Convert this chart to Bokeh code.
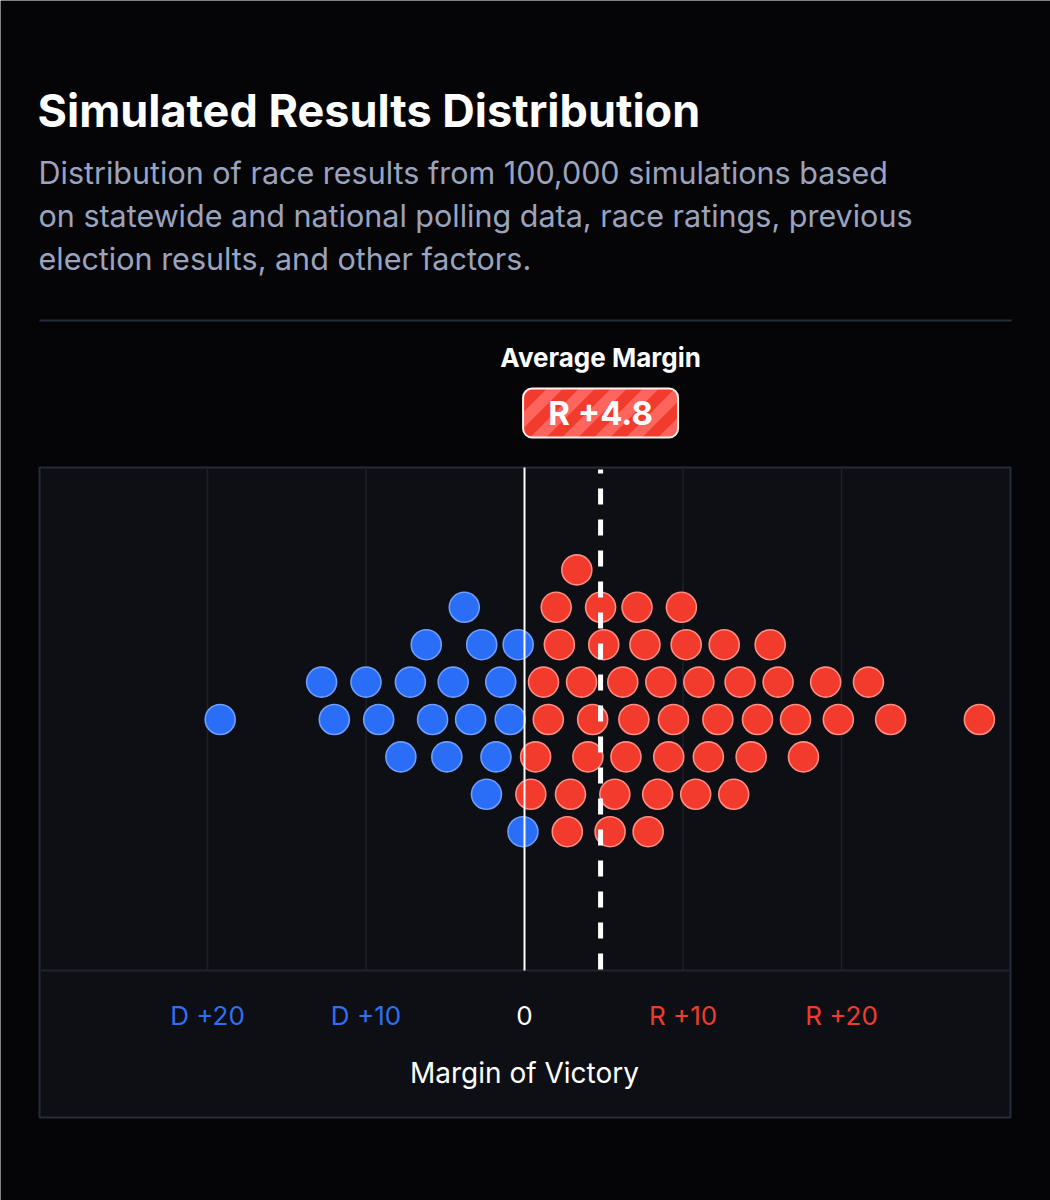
import math
from bokeh.plotting import figure
from bokeh.models import Range1d, BoxAnnotation
from bokeh.core.properties import value
from bokeh.embed import file_html
from bokeh.resources import INLINE

# ---------------- data ----------------
dem_margin = [-3.8,
              -6.2, -2.7, -0.4,
              -12.8, -10.0, -7.2, -4.5, -1.5,
              -19.2, -12.0, -9.2, -5.8, -3.4, -0.9,
              -7.8, -4.9, -1.8,
              -2.4,
              -0.1]
dem_row = [3,
           2, 2, 2,
           1, 1, 1, 1, 1,
           0, 0, 0, 0, 0, 0,
           -1, -1, -1,
           -2,
           -3]
rep_margin = [3.3,
              2.0, 4.8, 7.1, 9.9,
              2.2, 5.0, 7.6, 10.2, 12.6, 15.5,
              1.2, 3.6, 6.2, 8.6, 11.0, 13.6, 16.0, 19.0, 21.7,
              1.5, 4.3, 6.9, 9.4, 12.2, 14.7, 17.1, 19.8, 23.1, 28.7,
              0.7, 4.0, 6.4, 9.1, 11.6, 14.3, 17.6,
              0.4, 2.9, 5.7, 8.4, 10.8, 13.2,
              2.7, 5.4, 7.8]
rep_row = [4,
           3, 3, 3, 3,
           2, 2, 2, 2, 2, 2,
           1, 1, 1, 1, 1, 1, 1, 1, 1,
           0, 0, 0, 0, 0, 0, 0, 0, 0, 0,
           -1, -1, -1, -1, -1, -1, -1,
           -2, -2, -2, -2, -2, -2,
           -3, -3, -3]
average_margin = 4.8
average_label = "R +4.8"
tick_values = [-20, -10, 0, 10, 20]
tick_labels = ["D +20", "D +10", "0", "R +10", "R +20"]
title = "Simulated Results Distribution"
subtitle_lines = ["Distribution of race results from 100,000 simulations based",
                  "on statewide and national polling data, race ratings, previous",
                  "election results, and other factors."]

# ---------------- layout ----------------
W, H = 1050, 1200
ZERO_PX, UNIT_PX = 524.0, 15.85
ROW0_PX, ROW_PX = 719.0, 37.4

def dx(px):
    return (px - ZERO_PX) / UNIT_PX

def dy(py):
    return (ROW0_PX - py) / ROW_PX

BG = "#050508"
PANEL = "#0e0f14"
BORDER = "#262b38"
BLUE = "#2a6df7"
BLUE_EDGE = "#6d9dff"
RED = "#f23b2d"
RED_EDGE = "#ff8d82"
FONT = value("Inter")

p = figure(width=W, height=H,
           x_range=Range1d(dx(0), dx(W)), y_range=Range1d(dy(H), dy(0)),
           output_backend="svg", toolbar_location=None,
           x_axis_location=None, y_axis_location=None,
           min_border=0, background_fill_color=BG, border_fill_color=BG,
           outline_line_color=None)
p.grid.visible = False

# chart box
box = BoxAnnotation(left=dx(39), right=dx(1010), top=dy(467), bottom=dy(1117),
                    fill_color=PANEL, fill_alpha=1, line_color=BORDER, line_alpha=1,
                    line_width=2, level="underlay")
p.add_layout(box)

# ---------------- badge ----------------
badge_cx = ZERO_PX + average_margin * UNIT_PX
BL, BR, BT, BB, RAD = badge_cx - 77.5, badge_cx + 77.5, 388.0, 437.0, 9
badge_fill = BoxAnnotation(left=dx(BL), right=dx(BR), top=dy(BT), bottom=dy(BB),
                           fill_color=RED, fill_alpha=1, line_color=None,
                           border_radius=RAD, level="underlay")
p.add_layout(badge_fill)

# rounded-rect clip polygon (px, convex)
clip = []
for (ccx, ccy, a0) in [(BR - RAD, BT + RAD, -90), (BR - RAD, BB - RAD, 0),
                       (BL + RAD, BB - RAD, 90), (BL + RAD, BT + RAD, 180)]:
    for k in range(7):
        a = math.radians(a0 + k * 15)
        clip.append((ccx + RAD * math.cos(a), ccy + RAD * math.sin(a)))

area = sum(clip[i][0] * clip[(i + 1) % len(clip)][1] - clip[(i + 1) % len(clip)][0] * clip[i][1]
           for i in range(len(clip)))
if area < 0:
    clip = clip[::-1]

def clip_poly(subject, clipper):
    out = subject
    n = len(clipper)
    for i in range(n):
        ax, ay = clipper[i]
        bx, by = clipper[(i + 1) % n]

        def inside(pt):
            return (bx - ax) * (pt[1] - ay) - (by - ay) * (pt[0] - ax) >= 0

        def inter(p1, p2):
            x1, y1 = p1
            x2, y2 = p2
            ddx, ddy = x2 - x1, y2 - y1
            ex, ey = bx - ax, by - ay
            den = ex * ddy - ey * ddx
            t = (ey * (x1 - ax) - ex * (y1 - ay)) / den if den != 0 else 0
            return (x1 + t * ddx, y1 + t * ddy)

        inp = out
        out = []
        if not inp:
            break
        s = inp[-1]
        for e in inp:
            if inside(e):
                if not inside(s):
                    out.append(inter(s, e))
                out.append(e)
            elif inside(s):
                out.append(inter(s, e))
            s = e
    return out

PERIOD, STRIPE = 32.0, 16.0
sx, sy = [], []
c = BL + BT - 40
while c < BR + BB + 40:
    # band of points with x + y in [c, c + STRIPE]  ("/" stripes)
    band = [(c + 200, -200), (c + STRIPE + 200, -200),
            (c + STRIPE - 800, 800), (c - 800, 800)]
    poly = clip_poly(band, clip)
    if len(poly) >= 3:
        sx.append([dx(q[0]) for q in poly])
        sy.append([dy(q[1]) for q in poly])
    c += PERIOD
p.patches(sx, sy, fill_color="#ff6d66", fill_alpha=0.85, line_color=None)

badge_border = BoxAnnotation(left=dx(BL), right=dx(BR), top=dy(BT), bottom=dy(BB),
                             fill_color=None, fill_alpha=0, line_color="#fff2f0",
                             line_alpha=1, line_width=2, border_radius=RAD)
p.add_layout(badge_border)

# header separator
p.segment(x0=[dx(39)], x1=[dx(1011)], y0=[dy(320)], y1=[dy(320)],
          line_color="#262c3b", line_width=2)

# grid lines
grid_x = [t for t in tick_values if t != 0]
p.segment(x0=grid_x, x1=grid_x, y0=[dy(970)] * len(grid_x), y1=[dy(467)] * len(grid_x),
          line_color="#1c202b", line_width=1.5)
# axis separator
p.segment(x0=[dx(40)], x1=[dx(1009)], y0=[dy(970)], y1=[dy(970)],
          line_color="#1e2330", line_width=2)

# dots
p.scatter(dem_margin, dem_row, size=30, fill_color=BLUE, line_color=BLUE_EDGE, line_width=1.6)
p.scatter(rep_margin, rep_row, size=30, fill_color=RED, line_color=RED_EDGE, line_width=1.6)

# zero line & average line
p.segment(x0=[0], x1=[0], y0=[dy(970)], y1=[dy(467)], line_color="white", line_width=2)
p.segment(x0=[average_margin], x1=[average_margin], y0=[dy(969)], y1=[dy(469)],
          line_color="white", line_width=5, line_dash="16 15")

# tick labels
tick_colors = ["#2f6ff2", "#2f6ff2", "#ffffff", "#f03b30", "#f03b30"]
p.text(x=tick_values, y=[dy(1015)] * len(tick_values), text=tick_labels,
       text_color=tick_colors, text_font=FONT, text_font_size="26px",
       text_font_style="normal", text_align="center", text_baseline="middle")
p.text(x=[0], y=[dy(1072)], text=["Margin of Victory"], text_color="white",
       text_font=FONT, text_font_size="28px", text_align="center", text_baseline="middle")

# average margin header
p.text(x=[average_margin], y=[dy(357)], text=["Average Margin"], text_color="white",
       text_font=FONT, text_font_size="26px", text_font_style="bold",
       text_align="center", text_baseline="middle")
p.text(x=[average_margin], y=[dy(412)], text=[average_label], text_color="white",
       text_font=FONT, text_font_size="33px", text_font_style="bold",
       text_align="center", text_baseline="middle")

# title and subtitle
p.text(x=[dx(37)], y=[dy(110)], text=[title], text_color="white",
       text_font=FONT, text_font_size="45px", text_font_style="bold",
       text_align="left", text_baseline="middle")
p.text(x=[dx(38)] * 3, y=[dy(172), dy(215), dy(258)], text=subtitle_lines,
       text_color="#9ba3bd", text_font=FONT, text_font_size="30.5px",
       text_align="left", text_baseline="middle")

open("out.html", "w").write(file_html(p, INLINE))
